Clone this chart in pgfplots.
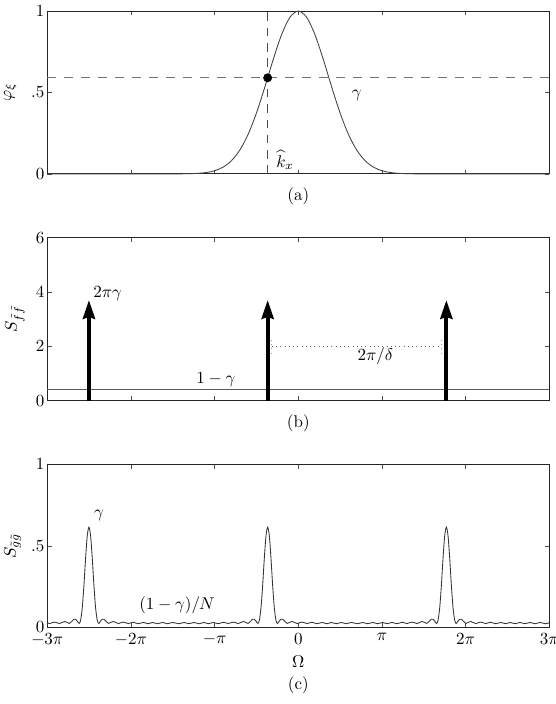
\documentclass[border=0pt]{standalone}
\usepackage{pgfplots}
\pgfplotsset{compat=1.18}
\usetikzlibrary{arrows.meta}
\pgfplotsset{
  myax/.style={
    scale only axis, width=295.3pt, height=95.8pt,
    xmin=-3, xmax=3, xtick={-3,-2,-1,0,1,2,3},
    tick align=inside, tick pos=both, major tick length=2.5pt,
    axis line style={line width=0.6pt, black!85},
    every tick/.style={black!70, line width=0.4pt},
    clip=false, anchor=south west,
    yticklabel style={inner sep=1.5pt},
  }
}
\begin{document}
\begin{tikzpicture}
% ---------------- (a)
\begin{axis}[myax, at={(0,266.7pt)}, ymin=0, ymax=1, ytick={0,0.5,1},
  yticklabels={$0$,$.5$,$1$}, xticklabels={}]
\addplot[black!55, line width=0.5pt, dash pattern=on 5pt off 5pt] coordinates {(-3,0.59) (3,0.59)};
\addplot[black!70, line width=0.5pt, dash pattern=on 5pt off 4pt] coordinates {(-0.366,0) (-0.366,1)};
\addplot[black!75, line width=0.5pt, smooth] coordinates {
(-3,0) (-1.6,0) (-1.5,0.0001) (-1.4,0.0004) (-1.3,0.0013) (-1.2,0.0034) (-1.1,0.0085)
(-1.0,0.0195) (-0.9,0.0412) (-0.8,0.0804) (-0.7,0.1452) (-0.6,0.2422) (-0.5,0.3736)
(-0.4,0.5325) (-0.3,0.7015) (-0.2,0.8543) (-0.1,0.9614) (0,1)
(0.1,0.9614) (0.2,0.8543) (0.3,0.7015) (0.4,0.5325) (0.5,0.3736) (0.6,0.2422)
(0.7,0.1452) (0.8,0.0804) (0.9,0.0412) (1.0,0.0195) (1.1,0.0085) (1.2,0.0034)
(1.3,0.0013) (1.4,0.0004) (1.5,0.0001) (1.6,0) (3,0)};
\addplot[only marks, mark=*, mark size=2.4pt, black] coordinates {(-0.366,0.59)};
\node at (axis cs:0.70,0.48) {$\gamma$};
\node at (axis cs:-0.159,0.084) {$\widehat{k}_x$};
\node[rotate=90] at ([xshift=-21.9pt]rel axis cs:0,0.5) {$\varphi_\xi$};
\node at ([yshift=-13pt]rel axis cs:0.5,0) {(a)};
\end{axis}
% ---------------- (b)
\begin{axis}[myax, at={(0,133.3pt)}, ymin=0, ymax=6, ytick={0,2,4,6}, xticklabels={}]
\addplot[black!65, line width=0.5pt] coordinates {(-3,0.41) (3,0.41)};
\addplot[black!60, line width=0.5pt, dotted] coordinates {(-0.316,2) (1.713,2)};
\addplot[black!40, line width=0.4pt, dotted] coordinates {(-0.316,1.75) (-0.316,2.24)};
\addplot[black!40, line width=0.4pt, dotted] coordinates {(1.713,1.75) (1.713,2.24)};
\addplot[black, line width=2.4pt, -{Stealth[length=11pt,width=7pt,inset=1pt]}] coordinates {(-2.502,0) (-2.502,3.71)};
\addplot[black, line width=2.4pt, -{Stealth[length=11pt,width=7pt,inset=1pt]}] coordinates {(-0.366,0) (-0.366,3.71)};
\addplot[black, line width=2.4pt, -{Stealth[length=11pt,width=7pt,inset=1pt]}] coordinates {(1.770,0) (1.770,3.71)};
\node[anchor=base west, inner sep=0pt] at (axis cs:-2.454,3.82) {$2\pi\gamma$};
\node[anchor=base] at (axis cs:-0.985,0.64) {$1-\gamma$};
\node[anchor=base] at (axis cs:0.921,1.47) {$2\pi/\delta$};
\node[rotate=90] at ([xshift=-19pt]rel axis cs:0,0.5) {$S_{\tilde f\tilde f}$};
\node at ([yshift=-13pt]rel axis cs:0.5,0) {(b)};
\end{axis}
% ---------------- (c)
\begin{axis}[myax, at={(0,0pt)}, ymin=0, ymax=1, ytick={0,0.5,1},
  yticklabels={$0$,$.5$,$1$},
  xticklabels={$-3\pi$,$-2\pi$,$-\pi$,$0$,$\pi$,$2\pi$,$3\pi$}]
\addplot[black!80, line width=0.5pt, smooth] coordinates {
(-3.000,0.029) (-2.972,0.023) (-2.942,0.028) (-2.912,0.032) (-2.882,0.028) (-2.855,0.023)
(-2.822,0.030) (-2.792,0.036) (-2.762,0.030) (-2.737,0.024) (-2.702,0.039) (-2.682,0.050)
(-2.662,0.050) (-2.642,0.039) (-2.620,0.024) (-2.602,0.042) (-2.582,0.118) (-2.562,0.255)
(-2.542,0.423) (-2.522,0.561) (-2.502,0.615) (-2.482,0.561) (-2.462,0.423) (-2.442,0.255)
(-2.422,0.118) (-2.402,0.042) (-2.384,0.024) (-2.362,0.039) (-2.342,0.050) (-2.322,0.050)
(-2.302,0.039) (-2.267,0.024) (-2.242,0.030) (-2.212,0.036) (-2.182,0.030) (-2.149,0.023)
(-2.122,0.028) (-2.092,0.032) (-2.062,0.028) (-2.032,0.023) (-1.972,0.031) (-1.912,0.022)
(-1.852,0.030) (-1.792,0.022) (-1.742,0.030) (-1.682,0.022) (-1.622,0.030) (-1.562,0.022)
(-1.502,0.030)
(-1.426,0.022) (-1.366,0.030) (-1.306,0.022) (-1.246,0.030) (-1.186,0.022) (-1.126,0.030)
(-1.076,0.022) (-1.016,0.030) (-0.956,0.022) (-0.896,0.031) (-0.836,0.023) (-0.806,0.028)
(-0.776,0.032) (-0.746,0.028) (-0.719,0.023) (-0.686,0.030) (-0.656,0.036) (-0.626,0.030)
(-0.601,0.024) (-0.566,0.039) (-0.546,0.050) (-0.526,0.050) (-0.506,0.039) (-0.484,0.024)
(-0.466,0.042) (-0.446,0.118) (-0.426,0.255) (-0.406,0.423) (-0.386,0.561) (-0.366,0.615)
(-0.346,0.561) (-0.326,0.423) (-0.306,0.255) (-0.286,0.118) (-0.266,0.042) (-0.248,0.024)
(-0.226,0.039) (-0.206,0.050) (-0.186,0.050) (-0.166,0.039) (-0.131,0.024) (-0.106,0.030)
(-0.076,0.036) (-0.046,0.030) (-0.013,0.023) (0.014,0.028) (0.044,0.032) (0.074,0.028)
(0.104,0.023) (0.164,0.031) (0.224,0.022) (0.284,0.030) (0.344,0.022) (0.394,0.030)
(0.454,0.022) (0.514,0.030) (0.574,0.022) (0.634,0.030)
(0.710,0.022) (0.770,0.030) (0.830,0.022) (0.890,0.030) (0.950,0.022) (1.010,0.030)
(1.060,0.022) (1.120,0.030) (1.180,0.022) (1.240,0.031) (1.300,0.023) (1.330,0.028)
(1.360,0.032) (1.390,0.028) (1.417,0.023) (1.450,0.030) (1.480,0.036) (1.510,0.030)
(1.535,0.024) (1.570,0.039) (1.590,0.050) (1.610,0.050) (1.630,0.039) (1.652,0.024)
(1.670,0.042) (1.690,0.118) (1.710,0.255) (1.730,0.423) (1.750,0.561) (1.770,0.615)
(1.790,0.561) (1.810,0.423) (1.830,0.255) (1.850,0.118) (1.870,0.042) (1.888,0.024)
(1.910,0.039) (1.930,0.050) (1.950,0.050) (1.970,0.039) (2.005,0.024) (2.030,0.030)
(2.060,0.036) (2.090,0.030) (2.123,0.023) (2.150,0.028) (2.180,0.032) (2.210,0.028)
(2.240,0.023) (2.300,0.031) (2.360,0.022) (2.420,0.030) (2.480,0.022) (2.530,0.030)
(2.590,0.022) (2.650,0.030) (2.710,0.022) (2.770,0.030) (2.830,0.022) (2.890,0.030)
(2.950,0.022) (3.000,0.028)};
\node at (axis cs:-2.382,0.684) {$\gamma$};
\node at (axis cs:-1.450,0.137) {$(1-\gamma)/N$};
\node[rotate=90] at ([xshift=-20.4pt]rel axis cs:0,0.5) {$S_{\tilde g\tilde g}$};
\node at ([yshift=-20.2pt]rel axis cs:0.5,0) {$\Omega$};
\node at ([yshift=-33.9pt]rel axis cs:0.5,0) {(c)};
\end{axis}
\pgfresetboundingbox
\useasboundingbox (-27.8pt,-45.1pt) rectangle (298.7pt,369.0pt);
\end{tikzpicture}
\end{document}
